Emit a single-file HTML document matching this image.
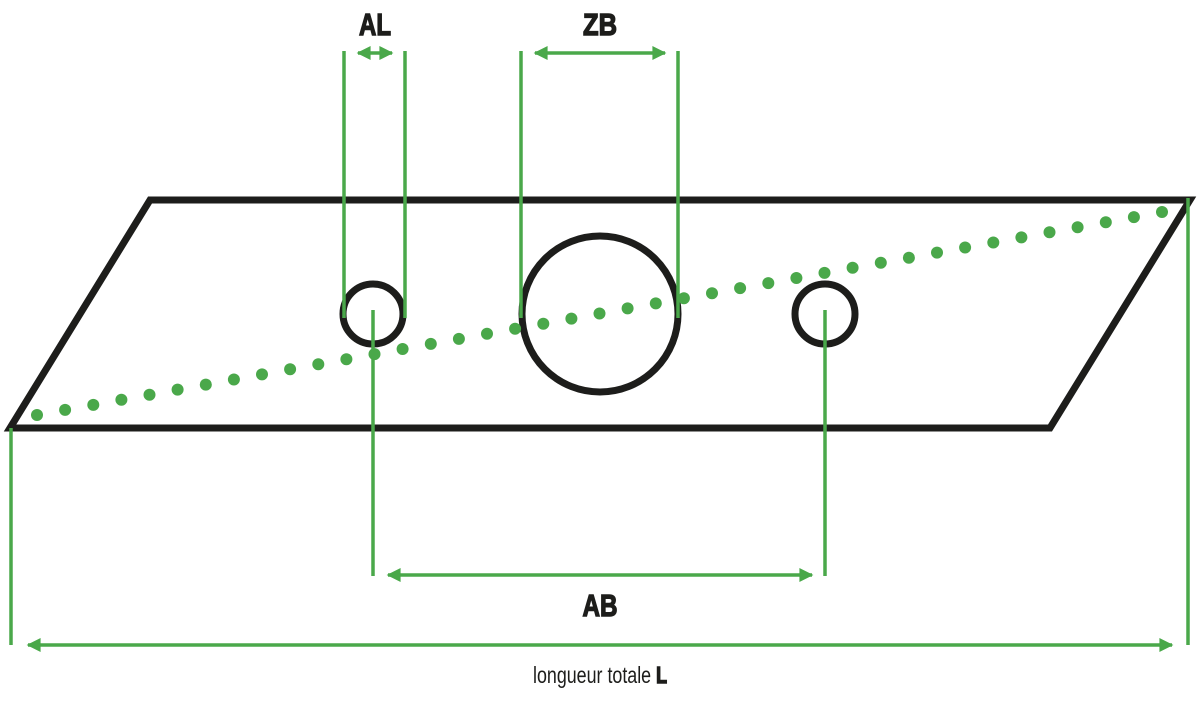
<!DOCTYPE html>
<html><head><meta charset="utf-8"><style>
html,body{margin:0;padding:0;background:#fff;}
svg{display:block;}
text{font-family:"Liberation Sans Narrow","Liberation Sans",sans-serif;fill:#1d1d1b;}
.b{stroke:#1d1d1b;stroke-width:1.4;}
</style></head><body>
<svg width="1200" height="705" viewBox="0 0 1200 705" xmlns="http://www.w3.org/2000/svg">
<defs>
<marker id="a" viewBox="0 0 10 10" refX="9" refY="5" markerWidth="4.5" markerHeight="4" orient="auto-start-reverse" markerUnits="strokeWidth">
<path d="M0,0 L10,5 L0,10 z" fill="#4aa84a"/></marker>
</defs>
<polygon points="150,200 1190,200 1050,428 10,428" fill="none" stroke="#1d1d1b" stroke-width="7" stroke-linejoin="miter"/>
<circle cx="373" cy="314" r="30" fill="none" stroke="#1d1d1b" stroke-width="7"/>
<circle cx="600" cy="314" r="78" fill="none" stroke="#1d1d1b" stroke-width="7"/>
<circle cx="825" cy="314" r="30" fill="none" stroke="#1d1d1b" stroke-width="7"/>
<g fill="#4aa84a">
<circle cx="37" cy="415" r="6"/><circle cx="65.1" cy="409.9" r="6"/><circle cx="93.3" cy="404.9" r="6"/><circle cx="121.4" cy="399.8" r="6"/><circle cx="149.5" cy="394.7" r="6"/><circle cx="177.6" cy="389.6" r="6"/><circle cx="205.8" cy="384.6" r="6"/><circle cx="233.9" cy="379.5" r="6"/><circle cx="262" cy="374.4" r="6"/><circle cx="290.1" cy="369.3" r="6"/><circle cx="318.3" cy="364.3" r="6"/><circle cx="346.4" cy="359.2" r="6"/><circle cx="374.5" cy="354.1" r="6"/><circle cx="402.6" cy="349" r="6"/><circle cx="430.8" cy="343.9" r="6"/><circle cx="458.9" cy="338.9" r="6"/><circle cx="487" cy="333.8" r="6"/><circle cx="515.1" cy="328.7" r="6"/><circle cx="543.3" cy="323.7" r="6"/><circle cx="571.4" cy="318.6" r="6"/><circle cx="599.5" cy="313.5" r="6"/><circle cx="627.6" cy="308.4" r="6"/><circle cx="655.8" cy="303.4" r="6"/><circle cx="683.9" cy="298.3" r="6"/><circle cx="712" cy="293.2" r="6"/><circle cx="740.1" cy="288.1" r="6"/><circle cx="768.3" cy="283.1" r="6"/><circle cx="796.4" cy="278" r="6"/><circle cx="824.5" cy="272.9" r="6"/><circle cx="852.6" cy="267.8" r="6"/><circle cx="880.8" cy="262.8" r="6"/><circle cx="908.9" cy="257.7" r="6"/><circle cx="937" cy="252.6" r="6"/><circle cx="965.1" cy="247.5" r="6"/><circle cx="993.3" cy="242.5" r="6"/><circle cx="1021.4" cy="237.4" r="6"/><circle cx="1049.5" cy="232.3" r="6"/><circle cx="1077.6" cy="227.2" r="6"/><circle cx="1105.8" cy="222.2" r="6"/><circle cx="1133.9" cy="217.1" r="6"/><circle cx="1162" cy="212" r="6"/>
</g>
<g stroke="#4aa84a" stroke-width="3.5" fill="none">
<line x1="344" y1="51" x2="344" y2="318"/>
<line x1="405" y1="51" x2="405" y2="318"/>
<line x1="521" y1="51" x2="521" y2="318"/>
<line x1="678" y1="51" x2="678" y2="318"/>
<line x1="373" y1="310" x2="373" y2="576"/>
<line x1="825" y1="310" x2="825" y2="576"/>
<line x1="11" y1="428" x2="11" y2="645"/>
<line x1="1188" y1="198" x2="1188" y2="645"/>
<line x1="358" y1="53" x2="392" y2="53" marker-start="url(#a)" marker-end="url(#a)"/>
<line x1="535" y1="53" x2="665" y2="53" marker-start="url(#a)" marker-end="url(#a)"/>
<line x1="388" y1="575" x2="812" y2="575" marker-start="url(#a)" marker-end="url(#a)"/>
<line x1="28" y1="645" x2="1172" y2="645" marker-start="url(#a)" marker-end="url(#a)"/>
</g>
<text class="b" x="375" y="35" font-size="31" font-weight="bold" text-anchor="middle" textLength="32" lengthAdjust="spacingAndGlyphs">AL</text>
<text class="b" x="600" y="35" font-size="31" font-weight="bold" text-anchor="middle" textLength="34" lengthAdjust="spacingAndGlyphs">ZB</text>
<text class="b" x="600" y="616" font-size="31" font-weight="bold" text-anchor="middle" textLength="35" lengthAdjust="spacingAndGlyphs">AB</text>
<text x="533" y="683" font-size="23" textLength="134" lengthAdjust="spacingAndGlyphs">longueur totale <tspan class="b" font-weight="bold">L</tspan></text>
</svg>
</body></html>
